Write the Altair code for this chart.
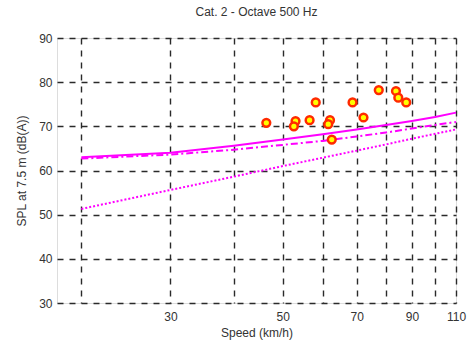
import altair as alt
import pandas as pd

speeds = [20, 30, 40, 50, 60, 70, 80, 90, 100, 110]
solid_vals = [63.0, 64.0, 65.6, 67.0, 68.2, 69.3, 70.3, 71.2, 72.1, 73.1]
dashdot_vals = [62.7, 63.6, 64.7, 65.8, 66.7, 67.7, 68.6, 69.5, 70.3, 71.0]
dotted_vals = [51.3, 55.6, 58.6, 61.0, 62.9, 64.5, 65.9, 67.2, 68.3, 69.3]

pt_speed = [46.4, 53.0, 52.6, 56.5, 58.1, 62.0, 61.5, 62.5, 68.7, 72.2, 77.4, 83.7, 84.6, 87.7]
pt_spl = [70.8, 71.2, 70.0, 71.4, 75.4, 71.4, 70.5, 67.0, 75.4, 72.0, 78.2, 78.0, 76.5, 75.4]

x_grid = [20, 30, 40, 50, 60, 70, 80, 90, 100, 110]
x_labels = [30, 50, 70, 90, 110]
y_ticks = [30, 40, 50, 60, 70, 80, 90]

FONT = "Liberation Sans"
TXT = "#333333"

lines = pd.DataFrame({
    "speed": speeds * 3,
    "spl": solid_vals + dashdot_vals + dotted_vals,
    "series": ["solid"] * len(speeds) + ["dashdot"] * len(speeds) + ["dotted"] * len(speeds),
})
pts = pd.DataFrame({"speed": pt_speed, "spl": pt_spl})

label_list = ",".join(str(v) for v in x_labels)
xs = alt.Scale(type="log", domain=[17.9, 110], nice=False)
ys = alt.Scale(domain=[30, 90], nice=False)

xax = alt.Axis(
    values=x_grid,
    labelExpr=f"indexof([{label_list}], datum.value) >= 0 ? datum.label : ''",
    title="Speed (km/h)",
    grid=True, gridColor="#2a2a2a", gridDash=[6, 6], gridWidth=1.4,
    ticks=False, domain=False,
    labelFont=FONT, labelFontSize=12, labelColor=TXT, labelPadding=8,
    titleFont=FONT, titleFontSize=12, titleColor=TXT, titleFontWeight="normal", titlePadding=5,
    labelFlush=False,
)
yax = alt.Axis(
    values=y_ticks,
    title="SPL at 7.5 m (dB(A))",
    grid=True, gridColor="#2a2a2a", gridDash=[6, 6], gridWidth=1.4,
    ticks=False, domain=False,
    labelFont=FONT, labelFontSize=12, labelColor=TXT, labelPadding=5,
    titleFont=FONT, titleFontSize=12, titleColor=TXT, titleFontWeight="normal", titlePadding=10,
)

base = alt.Chart(lines)
x_enc = alt.X("speed:Q", scale=xs, axis=xax)
y_enc = alt.Y("spl:Q", scale=ys, axis=yax)

solid = base.transform_filter(alt.datum.series == "solid").mark_line(
    color="#FF00FF", strokeWidth=2).encode(x=x_enc, y=y_enc)
dashdot = base.transform_filter(alt.datum.series == "dashdot").mark_line(
    color="#FF00FF", strokeWidth=2, strokeDash=[7, 3, 2, 3]).encode(x="speed:Q", y="spl:Q")
dotted = base.transform_filter(alt.datum.series == "dotted").mark_line(
    color="#FF00FF", strokeWidth=2, strokeDash=[2, 2]).encode(x="speed:Q", y="spl:Q")
points = alt.Chart(pts).mark_point(
    shape="circle", filled=False, fill="#FFFF00", fillOpacity=1, stroke="#FF2A00",
    strokeWidth=2.5, size=60, opacity=1).encode(x="speed:Q", y="spl:Q")

chart = alt.layer(solid, dashdot, dotted, points).properties(
    width=399, height=265,
    autosize=alt.AutoSizeParams(type="none"),
    padding={"left": 57, "top": 38, "right": 13, "bottom": 44},
    title=alt.TitleParams("Cat. 2 - Octave 500 Hz", font=FONT, fontSize=12,
                          fontWeight="normal", color=TXT, offset=13),
).configure_view(stroke="black", strokeWidth=2.5).configure(background="white")

chart.save("out.html", embed_options={"renderer": "svg", "actions": False})
